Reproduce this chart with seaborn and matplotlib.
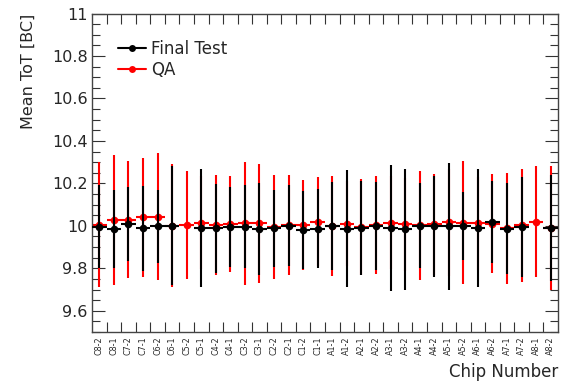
import numpy as np
import pandas as pd
import matplotlib
matplotlib.use("Agg")
import matplotlib.pyplot as plt
from matplotlib.lines import Line2D
from matplotlib.ticker import MultipleLocator, FixedLocator
import seaborn as sns

nan = np.nan

chips = ["C8-2", "C8-1", "C7-2", "C7-1", "C6-2", "C6-1", "C5-2", "C5-1",
         "C4-2", "C4-1", "C3-2", "C3-1", "C2-2", "C2-1", "C1-2", "C1-1",
         "A1-1", "A1-2", "A2-1", "A2-2", "A3-1", "A3-2", "A4-1", "A4-2",
         "A5-1", "A5-2", "A6-1", "A6-2", "A7-1", "A7-2", "A8-1", "A8-2"]

final_mean = [9.995, 9.985, 10.010, 9.988, 9.998, 10.000, nan, 9.990,
              9.988, 9.993, 9.995, 9.985, 9.988, 10.000, 9.980, 9.987,
              10.000, 9.987, 9.990, 10.000, 9.990, 9.985, 10.000, 9.997,
              9.998, 10.000, 9.990, 10.018, 9.987, 9.993, nan, 9.990]
final_err = [0.195, 0.185, 0.175, 0.200, 0.173, 0.280, nan, 0.280,
             0.208, 0.188, 0.195, 0.215, 0.183, 0.190, 0.185, 0.187,
             0.207, 0.277, 0.220, 0.207, 0.298, 0.285, 0.200, 0.239,
             0.298, 0.160, 0.280, 0.193, 0.213, 0.236, nan, 0.250]

qa_mean = [10.005, 10.028, 10.028, 10.040, 10.043, 10.000, 10.005, 10.015,
           10.003, 10.008, 10.012, 10.012, 9.995, 10.004, 10.004, 10.020,
           10.000, 10.010, 9.995, 10.003, 10.015, 10.007, 10.003, 10.007,
           10.016, 10.015, 10.012, 10.009, 9.988, 10.002, 10.020, 9.990]
qa_err = [0.295, 0.305, 0.275, 0.280, 0.300, 0.290, 0.255, 0.220,
          0.235, 0.227, 0.290, 0.280, 0.245, 0.237, 0.210, 0.210,
          0.237, 0.200, 0.225, 0.230, 0.220, 0.220, 0.257, 0.237,
          0.250, 0.290, 0.220, 0.233, 0.262, 0.267, 0.260, 0.290]

series_names = ["Final Test", "QA"]
series_colors = {"Final Test": "black", "QA": "#ff0000"}

pos = np.arange(len(chips))
df = pd.concat([
    pd.DataFrame({"chip": chips, "pos": pos, "mean": final_mean,
                  "err": final_err, "series": "Final Test"}),
    pd.DataFrame({"chip": chips, "pos": pos, "mean": qa_mean,
                  "err": qa_err, "series": "QA"}),
], ignore_index=True)

sns.set_theme(style="ticks")
plt.rcParams["font.family"] = ["DejaVu Sans"]

fig = plt.figure(figsize=(5.81, 3.85), dpi=100)
ax = fig.add_axes([92 / 581, 1 - 332 / 385, 466 / 581, 318.5 / 385])

# QA underneath, Final Test on top
for name, z in (("QA", 2), ("Final Test", 4)):
    sub = df[df["series"] == name].dropna()
    col = series_colors[name]
    ax.errorbar(sub["pos"], sub["mean"], yerr=sub["err"], xerr=0.5,
                fmt="none", ecolor=col, elinewidth=1.5, capsize=0, zorder=z)
    sns.scatterplot(data=sub, x="pos", y="mean", color=col, s=30,
                    linewidth=0, marker="o", legend=False, ax=ax,
                    zorder=z + 1)

ax.set_xlim(-0.5, len(chips) - 0.5)
ax.set_ylim(9.5, 11.0)

ax.set_xticks(pos)
ax.set_xticklabels(chips, rotation=90, fontsize=5.8)
ax.xaxis.set_minor_locator(FixedLocator(pos[:-1] + 0.5))
ax.tick_params(axis="x", which="major", length=0, pad=3)
ax.tick_params(axis="x", which="minor", direction="in", length=7,
               width=0.8, top=True, bottom=True, color="#333333")

ax.yaxis.set_major_locator(MultipleLocator(0.2))
ax.yaxis.set_minor_locator(MultipleLocator(0.05))
ax.set_yticks([9.6, 9.8, 10.0, 10.2, 10.4, 10.6, 10.8, 11.0])
ax.set_yticklabels(["9.6", "9.8", "10", "10.2", "10.4", "10.6", "10.8", "11"],
                   fontsize=11.5)
ax.tick_params(axis="y", which="major", direction="in", length=9.5,
               width=0.8, left=True, right=True, pad=3, color="#333333")
ax.tick_params(axis="y", which="minor", direction="in", length=5.5,
               width=0.8, left=True, right=True, color="#333333")

for sp in ax.spines.values():
    sp.set_linewidth(1.0)
    sp.set_color("#444444")

ax.set_xlabel("Chip Number", fontsize=12, loc="right", labelpad=6)
ax.set_ylabel("Mean ToT [BC]", fontsize=11.5, loc="top", labelpad=12)

handles = [Line2D([0], [0], color=series_colors[n], lw=1.5, marker="o",
                  markersize=5, markeredgewidth=0) for n in series_names]
ax.legend(handles, series_names, loc="upper left",
          bbox_to_anchor=(118 / 581, 1 - 40 / 385),
          bbox_transform=fig.transFigure, frameon=False, fontsize=12,
          borderpad=0, borderaxespad=0, handlelength=1.7,
          handletextpad=0.3, labelspacing=0.2)

fig.savefig("out.png", dpi=100)
